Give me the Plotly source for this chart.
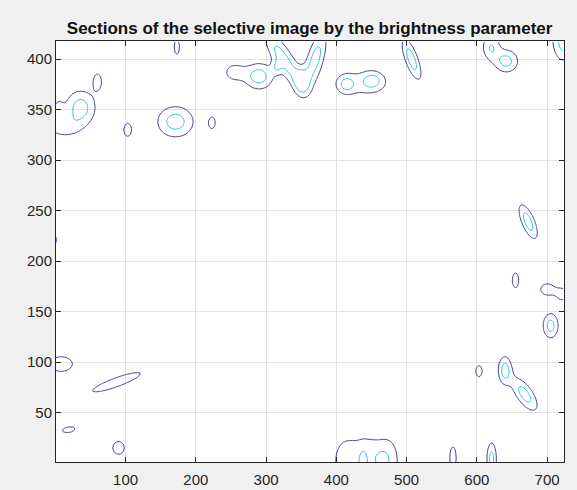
import numpy as np
import plotly.graph_objects as go

# ---- data: bright spots of the image ----
# centre x, centre y, spread along u, spread along v, rotation (deg), peak brightness
spot_x = [36, 12, 4, 60, 103, 171, 223, 173, 290, 255, 315,
          325, 370, 350, 414, 452, 435, 507, 620, 642, 725,
          673, 655, 700, 722, 705, 640, 668, 603,
          412, 445, 475, 438, 465, 19, 90, 566, 621, 87, 8, -3, 50]
spot_y = [352, 333, 350, 378, 330, 338, 337, 412, 383, 387, 392,
          400, 400, 378, 375, 379, 376, 400, 412, 398, 418,
          239, 181, 172, 167, 136, 92, 68, 91,
          2, 4, 2, 0, 4, 33, 15, 5, 4, 80, 98, 221, 110]
spot_su = [15, 18, 6, 6, 6, 18.5, 5, 4, 14, 12, 5,
           26, 20, 8, 8, 10, 30, 16, 9, 12, 12,
           14, 5, 10, 8, 8, 7, 16, 5,
           15, 16, 13, 4, 7, 10, 9, 5, 5, 39, 18, 5, 2]
spot_sv = [12, 8, 8, 8, 7, 11, 6, 8, 9, 7, 5,
           8, 8, 9, 6, 6, 10, 6, 9, 8, 14,
           6, 8, 6, 6, 9, 10, 7, 6,
           20, 20, 20, 9, 6, 3, 7, 12, 12, 5, 8, 7, 2]
spot_ang = [0, 0, 0, 0, 0, 0, 0, 0, 0, 0, 0,
            -45, 65, 0, 0, 0, 0, -59.5, 0, 0, 0,
            -55.5, 0, 0, 0, 0, 0, -40, 0,
            0, 0, 0, 0, 0, 5, 0, 0, 0, 14, 0, 0, 0]
spot_amp = [2.5, 1.5, 1.2, 1.5, 1.5, 2.5, 1.5, 1.5, 2.6, 1.5, 1.3,
            2.5, 2.5, 2.0, 1.6, 1.6, 1.4, 2.6, 2.0, 2.4, 2.6,
            2.6, 1.5, 1.5, 1.4, 2.4, 2.4, 2.5, 1.5,
            1.4, 1.4, 1.4, 1.2, 1.0, 1.5, 1.5, 1.5, 2.4, 1.5, 1.5, 1.5, 1.15]

levels = [1, 2]
level_colors = ["#3f3fa3", "#30c4e6"]
x_ticks = [100, 200, 300, 400, 500, 600, 700]
y_ticks = [50, 100, 150, 200, 250, 300, 350, 400]
x_range = [1, 724]
y_range = [1, 418]

# ---- brightness image rebuilt from the spots ----
xs = np.arange(x_range[0], x_range[1] + 1, 2.0)
ys = np.arange(y_range[0], y_range[1] + 1, 2.0)
X, Y = np.meshgrid(xs, ys)
Z = np.zeros_like(X)
for cx, cy, su, sv, a, amp in zip(spot_x, spot_y, spot_su, spot_sv, spot_ang, spot_amp):
    t = np.deg2rad(a)
    dx, dy = X - cx, Y - cy
    u = dx * np.cos(t) + dy * np.sin(t)
    v = -dx * np.sin(t) + dy * np.cos(t)
    Z += amp * np.exp(-0.5 * ((u / su) ** 2 + (v / sv) ** 2))
Z = np.round(Z, 3)

fig = go.Figure()
for lev, col in zip(levels, level_colors):
    fig.add_trace(go.Contour(
        x=xs, y=ys, z=Z,
        contours=dict(start=lev, end=lev, size=1, coloring="none"),
        line=dict(color=col, width=1, smoothing=1),
        showscale=False, hoverinfo="skip",
    ))

axis_common = dict(
    ticks="inside", ticklen=5, tickcolor="#262626", tickwidth=1,
    showgrid=True, gridcolor="#e3e3e3", gridwidth=1,
    showline=True, linecolor="#262626", linewidth=1, mirror="allticks",
    zeroline=False, automargin=False,
    tickfont=dict(family="Liberation Sans, Arial, sans-serif", size=15, color="#262626"),
)
fig.update_xaxes(range=x_range, tickvals=x_ticks, ticklabelstandoff=4, **axis_common)
fig.update_yaxes(range=y_range, tickvals=y_ticks, **axis_common)

fig.update_layout(
    width=577, height=490,
    margin=dict(l=56, r=13, t=41, b=28, autoexpand=False),
    paper_bgcolor="#f0f0f0", plot_bgcolor="white",
    showlegend=False,
    title=dict(
        text="<b>Sections of the selective image by the brightness parameter</b>",
        x=0.5366, xanchor="center", y=1 - 28 / 490, yanchor="middle", yref="container",
        font=dict(family="Liberation Sans, Arial, sans-serif", size=17, color="#111111"),
    ),
)

fig.write_html("out.html")
